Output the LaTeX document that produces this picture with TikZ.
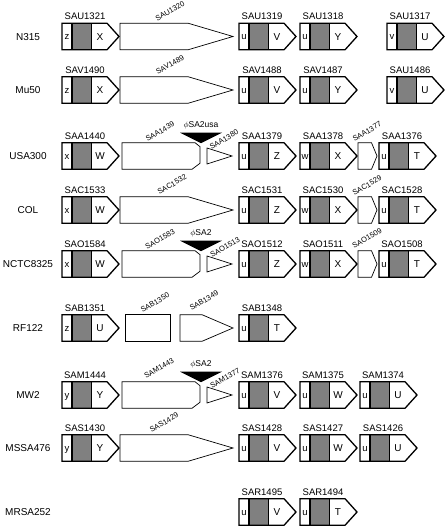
\documentclass[tikz,border=0pt]{standalone}
\usepackage{fontspec}
\setmainfont{Liberation Sans}
\definecolor{genegray}{RGB}{128,128,128}
\tikzset{
  geneline/.style={line width=1.3pt, draw=black, line join=miter},
  thinline/.style={line width=0.7pt, draw=black},
  rowlab/.style={font=\fontsize{10}{12}\selectfont, inner sep=0pt, anchor=base},
  glab/.style={font=\fontsize{9.5}{11}\selectfont, inner sep=0pt, anchor=base},
  sletter/.style={font=\fontsize{9.5}{10}\selectfont, inner sep=0pt, anchor=base},
  bletter/.style={font=\fontsize{10}{12}\selectfont, inner sep=0pt, anchor=base},
  rlab/.style={font=\fontsize{7.5}{8}\selectfont, inner sep=0pt, rotate=30},
  phlab/.style={font=\fontsize{8.5}{9}\selectfont, inner sep=0pt},
}
% gene box: #1 id, #2 left x, #3 centre y, #4 small letter, #5 big letter, #6 label
\newcommand{\genebox}[6]{%
  \fill[genegray] (#2+10,#3-13.3) rectangle (#2+29.5,#3+13.3);
  \draw[geneline] (#2,#3-13.3) -- (#2+45,#3-13.3) -- (#2+57,#3) -- (#2+45,#3+13.3) -- (#2,#3+13.3) -- cycle;
  \draw[geneline] (#2+10,#3-13.3) -- (#2+10,#3+13.3) (#2+29.5,#3-13.3) -- (#2+29.5,#3+13.3);
  \node[sletter] (#1s) at (#2+5,#3+3.3) {#4};
  \node[bletter] (#1b) at (#2+38,#3+3.6) {#5};
  \node[glab] (#1) at (#2+23,#3-16.5) {#6};
}
\newcommand{\bigarrow}[1]{%
  \draw[thinline] (120,#1-13.3) -- (188,#1-13.3) -- (233,#1) -- (188,#1+13.3) -- (120,#1+13.3) -- cycle;}
\newcommand{\truncbox}[1]{%
  \draw[thinline] (122,#1-13.3) -- (195,#1-13.3) -- (200,#1-9.3) -- (200,#1+7.3) -- (192,#1+13.3) -- (122,#1+13.3) -- cycle;}
\newcommand{\phage}[3]{%
  \fill[black] (180,#2-23.3) -- (222,#2-23.3) -- (201,#2-12.8) -- cycle;
  \node[phlab] (#1) at (201,#2-31) {#3};}
\newcommand{\smalltri}[1]{%
  \draw[thinline] (207,#1-8) -- (232,#1) -- (207,#1+8) -- cycle;}
\newcommand{\pent}[1]{%
  \draw[thinline] (358,#1-13.3) -- (371.5,#1-13.3) -- (377,#1) -- (371.5,#1+13.3) -- (358,#1+13.3) -- cycle;}

\begin{document}
\begin{tikzpicture}[x=1pt,y=-1pt]
\useasboundingbox (0,0) rectangle (445,526);

% ---------- N315 ----------
\node[rowlab] (rN315) at (28,36.5+3.6) {N315};
\genebox{g1321}{62}{36.5}{z}{X}{SAU1321}
\bigarrow{36.5}
\node[rlab] (g1320) at (170,11) {SAU1320};
\genebox{g1319}{239}{36.5}{u}{V}{SAU1319}
\genebox{g1318}{300}{36.5}{u}{Y}{SAU1318}
\genebox{g1317}{387}{36.5}{v}{U}{SAU1317}

% ---------- Mu50 ----------
\node[rowlab] (rMu50) at (28,90+3.6) {Mu50};
\genebox{v1490}{62}{90}{z}{X}{SAV1490}
\bigarrow{90}
\node[rlab] (v1489) at (170,64.5) {SAV1489};
\genebox{v1488}{239}{90}{u}{V}{SAV1488}
\genebox{v1487}{300}{90}{u}{Y}{SAV1487}
\genebox{v1486}{387}{90}{v}{U}{SAU1486}

% ---------- USA300 ----------
\node[rowlab] (rUSA) at (28,156+3.6) {USA300};
\genebox{a1440}{62}{156}{x}{W}{SAA1440}
\truncbox{156}
\node[rlab] (a1439) at (160,131.5) {SAA1439};
\phage{phA}{156}{$\phi$SA2usa}
\smalltri{156}
\node[rlab] (a1380) at (224,139.5) {SAA1380};
\genebox{a1379}{239}{156}{u}{Z}{SAA1379}
\genebox{a1378}{300}{156}{w}{X}{SAA1378}
\pent{156}
\node[rlab] (a1377) at (367,131.5) {SAA1377};
\genebox{a1376}{379}{156}{u}{T}{SAA1376}

% ---------- COL ----------
\node[rowlab] (rCOL) at (28,210+3.6) {COL};
\genebox{c1533}{62}{210}{x}{W}{SAC1533}
\bigarrow{210}
\node[rlab] (c1532) at (172,184.5) {SAC1532};
\genebox{c1531}{239}{210}{u}{Z}{SAC1531}
\genebox{c1530}{300}{210}{w}{X}{SAC1530}
\pent{210}
\node[rlab] (c1529) at (367,185.5) {SAC1529};
\genebox{c1528}{379}{210}{u}{T}{SAC1528}

% ---------- NCTC8325 ----------
\node[rowlab] (rNCTC) at (28,264+3.6) {NCTC8325};
\genebox{o1584}{62}{264}{x}{W}{SAO1584}
\truncbox{264}
\node[rlab] (o1583) at (160,239.5) {SAO1583};
\phage{phO}{264}{$\phi$SA2}
\smalltri{264}
\node[rlab] (o1513) at (225,247.5) {SAO1513};
\genebox{o1512}{239}{264}{u}{Z}{SAO1512}
\genebox{o1511}{300}{264}{w}{X}{SAO1511}
\pent{264}
\node[rlab] (o1509) at (367,238.5) {SAO1509};
\genebox{o1508}{379}{264}{u}{T}{SAO1508}

% ---------- RF122 ----------
\node[rowlab] (rRF) at (28,328+3.6) {RF122};
\genebox{b1351}{62}{328}{z}{U}{SAB1351}
\draw[thinline] (125,328-13.3) rectangle (170,328+13.3);
\node[rlab] (b1350) at (155,302.5) {SAB1350};
\draw[thinline] (180,328-13.3) -- (202,328-13.3) -- (233,328) -- (202,328+13.3) -- (180,328+13.3) -- cycle;
\node[rlab] (b1349) at (204,300.5) {SAB1349};
\genebox{b1348}{239}{328}{u}{T}{SAB1348}

% ---------- MW2 ----------
\node[rowlab] (rMW2) at (28,395+3.6) {MW2};
\genebox{m1444}{62}{395}{y}{Y}{SAM1444}
\truncbox{395}
\node[rlab] (m1443) at (159,368.5) {SAM1443};
\phage{phM}{395}{$\phi$SA2}
\smalltri{395}
\node[rlab] (m1377) at (225,378.5) {SAM1377};
\genebox{m1376}{239}{395}{u}{V}{SAM1376}
\genebox{m1375}{300}{395}{u}{W}{SAM1375}
\genebox{m1374}{360}{395}{u}{U}{SAM1374}

% ---------- MSSA476 ----------
\node[rowlab] (rMSSA) at (28,448+3.6) {MSSA476};
\genebox{s1430}{62}{448}{y}{Y}{SAS1430}
\bigarrow{448}
\node[rlab] (s1429) at (164,422.5) {SAS1429};
\genebox{s1428}{239}{448}{u}{V}{SAS1428}
\genebox{s1427}{300}{448}{u}{W}{SAS1427}
\genebox{s1426}{360}{448}{u}{U}{SAS1426}

% ---------- MRSA252 ----------
\node[rowlab] (rMRSA) at (28,512+3.6) {MRSA252};
\genebox{r1495}{239}{512}{u}{V}{SAR1495}
\genebox{r1494}{300}{512}{u}{T}{SAR1494}
\end{tikzpicture}
\end{document}
